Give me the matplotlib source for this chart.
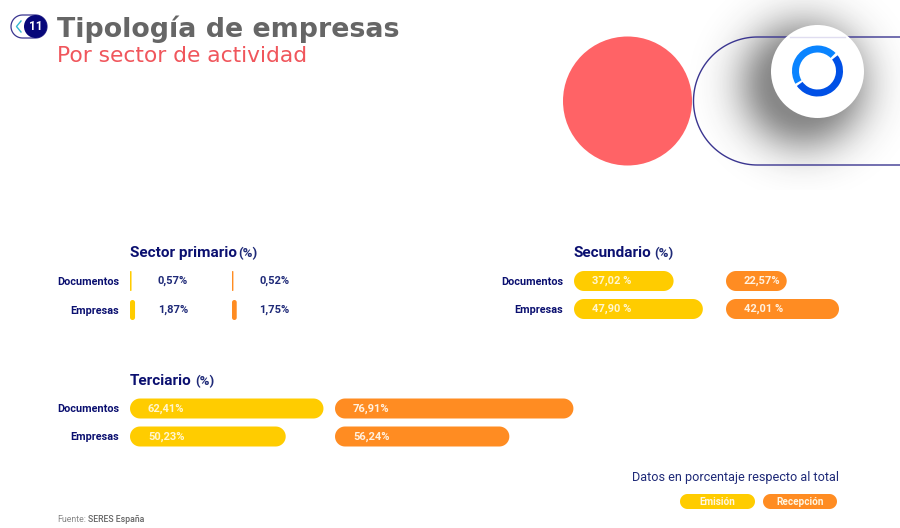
import numpy as np
import matplotlib
matplotlib.use("Agg")
import matplotlib.pyplot as plt
from matplotlib.patches import Circle, Wedge

W, H = 900, 528
NAVY = "#0B1070"
TEXT_BLUE = "#1F2A78"
YELLOW = "#FFCC00"
ORANGE = "#FF8C22"
CORAL = "#FF6366"
LINE = "#3A3590"

categories = ["Documentos", "Empresas"]

primario_emision = [0.57, 1.87]
primario_recepcion = [0.52, 1.75]
primario_emision_txt = ["0,57%", "1,87%"]
primario_recepcion_txt = ["0,52%", "1,75%"]

secundario_emision = [37.02, 47.90]
secundario_recepcion = [22.57, 42.01]
secundario_emision_txt = ["37,02 %", "47,90 %"]
secundario_recepcion_txt = ["22,57%", "42,01 %"]

terciario_emision = [62.41, 50.23]
terciario_recepcion = [76.91, 56.24]
terciario_emision_txt = ["62,41%", "50,23%"]
terciario_recepcion_txt = ["76,91%", "56,24%"]

plt.rcParams["font.family"] = ["Roboto", "DejaVu Sans"]

fig = plt.figure(figsize=(W / 100, H / 100), dpi=100, facecolor="white")


def px_axes(x0, y_top, w, h, **kw):
    # ejes colocados en pixeles, origen arriba a la izquierda
    return fig.add_axes([x0 / W, 1 - (y_top + h) / H, w / W, h / H], **kw)


def px_pt(p):
    return p * 0.72


def stadium(x, yc, w, h, r, sx=1.0, sy=1.0):
    # contorno de pastilla; sx y sy son pixeles por unidad de datos
    t = np.linspace(-np.pi / 2, np.pi / 2, 24)
    rx, ry = r / sx, r / sy
    half = h / 2
    right_x = x + w - rx + rx * np.cos(t)
    right_y = yc + (half - ry) * np.sign(np.sin(t)) + ry * np.sin(t)
    left_x = x + rx - rx * np.cos(t)
    left_y = yc - (half - ry) * np.sign(np.sin(t)) - ry * np.sin(t)
    return np.r_[right_x, left_x], np.r_[right_y, left_y]


bg = px_axes(0, 0, W, H)
bg.axis("off")
bg.set_zorder(0)

# sombra difusa del circulo blanco
sx, sy = np.meshgrid(np.arange(660, 900), np.arange(0, 190))
dist = np.hypot(sx - 803, sy - 84)
shadow = np.exp(-np.clip(dist - 30, 0, None) ** 2 / (2 * 27.0 ** 2)) * 0.55
rgba = np.zeros(shadow.shape + (4,))
rgba[..., :3] = 0.15
rgba[..., 3] = shadow
bg.imshow(rgba, extent=(660, 900, 190, 0), zorder=1, aspect="auto", interpolation="bilinear")
bg.set_xlim(0, W)
bg.set_ylim(H, 0)

bg.add_patch(Circle((627.5, 101), 64.5, color=CORAL, lw=0, zorder=2))

# pastilla de contorno que sale por la derecha
t = np.linspace(-np.pi / 2, np.pi / 2, 80)
bg.plot(np.r_[900, 757.5 - 64 * np.cos(t), 900], np.r_[37, 101 + 64 * np.sin(t), 165],
        color=LINE, lw=1, zorder=3)
bg.add_patch(Circle((817.5, 71.5), 46.5, color="white", lw=0, zorder=4))
bg.plot([790, 845], [37, 37], color="#E0DDF0", lw=1, zorder=5)

# anillo azul, y invertida: los angulos van en sentido horario
bg.add_patch(Wedge((817.5, 71), 25.5, 150, 315, width=7, color="#0A84FF", lw=0, zorder=6))
bg.add_patch(Wedge((817.5, 71), 25.5, -38, 144, width=7, color="#0050E6", lw=0, zorder=6))

# insignia con el numero de pagina
xs, ys = stadium(11, 26.5, 36, 23, 11.5)
bg.fill(xs, ys, fc="white", ec=LINE, lw=0.9, zorder=3)
bg.plot([21, 16.5, 21], [21, 26.5, 32], color="#35B8D0", lw=1.0, zorder=4)
bg.add_patch(Circle((35.5, 26.5), 11.5, color="#07077A", lw=0, zorder=5))
bg.text(35.5, 26.8, "11", color="white", fontsize=8.5, fontweight="bold",
        ha="center", va="center", zorder=6)

bg.text(57, 37, "Tipología de empresas", color="#666666", fontsize=19.4, fontweight="bold",
        family="DejaVu Sans", va="baseline")
bg.text(57, 62, "Por sector de actividad", color="#F0565C", fontsize=15.7,
        family="DejaVu Sans", va="baseline")


def grupo(x0, y_first, row_px, scale, values, labels, color, text_offset, text_color, show_cats):
    # una fila por categoria; scale son pixeles por punto porcentual
    width_px = 110 * scale
    top = y_first - row_px / 2
    ax = px_axes(x0, top, width_px, row_px * 2)
    ax.set_xlim(0, 110)
    ax.set_ylim(1.5, -0.5)
    ax.patch.set_alpha(0)
    for s in ax.spines.values():
        s.set_visible(False)
    ax.set_xticks([])
    if show_cats:
        ax.set_yticks([0, 1], categories, color=NAVY, fontsize=7.8, fontweight="bold")
        ax.tick_params(axis="y", length=0, pad=px_pt(11))
    else:
        ax.set_yticks([])
    for i, (v, lab) in enumerate(zip(values, labels)):
        r = min(10, v * scale / 2)
        xs, ys = stadium(0, i, v, 20 / row_px, r, scale, row_px)
        ax.fill(xs, ys, color=color, lw=0, clip_on=False)
        ax.annotate(lab, (0, i), xytext=(px_pt(text_offset), 0), textcoords="offset points",
                    color=text_color, fontsize=8, fontweight="bold", va="center", ha="left")
    return ax


grupo(130, 281, 29, 2.7, primario_emision, primario_emision_txt, YELLOW, 28, TEXT_BLUE, True)
grupo(232, 281, 29, 2.7, primario_recepcion, primario_recepcion_txt, ORANGE, 27, TEXT_BLUE, False)

grupo(574, 281, 28, 2.69, secundario_emision, secundario_emision_txt, YELLOW, 18, "#FFF6D0", True)
grupo(726, 281, 28, 2.69, secundario_recepcion, secundario_recepcion_txt, ORANGE, 18, "#FFF1E0", False)

grupo(130, 408.5, 28, 3.1, terciario_emision, terciario_emision_txt, YELLOW, 18, "#FFF6D0", True)
grupo(335, 408.5, 28, 3.1, terciario_recepcion, terciario_recepcion_txt, ORANGE, 18, "#FFF1E0", False)

# titulos de seccion
for x, y, titulo, xp in [(130, 253, "Sector primario", 238),
                         (574, 253, "Secundario", 654),
                         (130, 381, "Terciario", 195)]:
    bg.text(x, y, titulo, color=NAVY, fontsize=11, fontweight="bold", va="center")
    bg.text(xp, y + 0.5, "(%)", color=TEXT_BLUE, fontsize=9.5, fontweight="bold", va="center")

# leyenda
bg.text(839, 477, "Datos en porcentaje respecto al total", color=TEXT_BLUE, fontsize=9.1,
        ha="right", va="center")
for x, w, c, nombre in [(680, 75, YELLOW, "Emisión"), (763, 74, ORANGE, "Recepción")]:
    xs, ys = stadium(x, 501.5, w, 15, 7.5)
    bg.fill(xs, ys, color=c, lw=0, zorder=3)
    bg.text(x + w / 2, 502, nombre, color="#FFF6E0", fontsize=7.2, fontweight="bold",
            ha="center", va="center", zorder=4)

bg.text(57, 519, "Fuente:", color="#888888", fontsize=6.3, va="center")
bg.text(88, 519, "SERES España", color="#666666", fontsize=6.3, fontweight="medium", va="center")

fig.savefig("out.png", dpi=100, facecolor="white")
